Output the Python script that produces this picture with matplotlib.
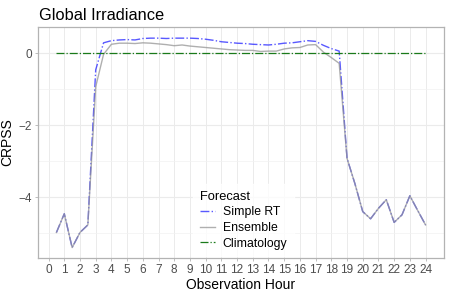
import numpy as np
import matplotlib
matplotlib.use("Agg")
import matplotlib.pyplot as plt
from matplotlib.lines import Line2D

plt.rcParams['font.family'] = ['Liberation Sans', 'DejaVu Sans']

# Observation hours (half-hourly)
hours = [0.5, 1.0, 1.5, 2.0, 2.5, 3.0, 3.5, 4.0, 4.5, 5.0, 5.5, 6.0,
         6.5, 7.0, 7.5, 8.0, 8.5, 9.0, 9.5, 10.0, 10.5, 11.0, 11.5, 12.0,
         12.5, 13.0, 13.5, 14.0, 14.5, 15.0, 15.5, 16.0, 16.5, 17.0, 17.5, 18.0,
         18.5, 19.0, 19.5, 20.0, 20.5, 21.0, 21.5, 22.0, 22.5, 23.0, 23.5, 24.0]

simple_rt = [-4.98, -4.46, -5.40, -4.98, -4.77, -0.46, 0.29, 0.35, 0.37, 0.38, 0.37, 0.41,
             0.42, 0.42, 0.41, 0.42, 0.42, 0.42, 0.41, 0.39, 0.36, 0.32, 0.30, 0.28,
             0.27, 0.25, 0.24, 0.23, 0.25, 0.28, 0.29, 0.32, 0.35, 0.33, 0.22, 0.13,
             0.06, -2.92, -3.62, -4.40, -4.60, -4.31, -4.07, -4.70, -4.49, -3.96, -4.37, -4.77]

ensemble = [-4.98, -4.46, -5.40, -4.98, -4.77, -0.93, -0.03, 0.25, 0.28, 0.28, 0.27, 0.29,
            0.28, 0.26, 0.24, 0.21, 0.23, 0.20, 0.18, 0.16, 0.14, 0.12, 0.10, 0.09,
            0.08, 0.08, 0.05, 0.06, 0.06, 0.12, 0.15, 0.16, 0.23, 0.24, 0.03, -0.12,
            -0.28, -2.92, -3.62, -4.40, -4.60, -4.31, -4.07, -4.70, -4.49, -3.96, -4.37, -4.77]

climatology = [0.0] * len(hours)

x_ticks = list(range(0, 25))
y_ticks = [0, -2, -4]
y_minor = [-1, -3, -5]

fig = plt.figure(figsize=(4.5, 2.95), dpi=100)
ax = fig.add_axes([0.0844, 0.1254, 0.9023, 0.7831])

# grid
for v in x_ticks:
    ax.axvline(v, color='#ebebeb', lw=0.7, zorder=0)
for v in y_ticks:
    ax.axhline(v, color='#ebebeb', lw=0.8, zorder=0)
for v in y_minor:
    ax.axhline(v, color='#f2f2f2', lw=0.5, zorder=0)

ax.plot(hours, simple_rt, color='#3030ff', lw=1.0, ls='-.', alpha=0.8, zorder=2)
ax.plot(hours, ensemble, color='#959595', lw=1.0, alpha=0.75, zorder=3)
ax.plot(hours, climatology, color='#1a7a1a', lw=0.9, ls='-.', zorder=4)

ax.set_xlim(-0.675, 25.175)
ax.set_ylim(-5.69, 0.73)
ax.set_xticks(x_ticks)
ax.set_xticklabels([str(v) for v in x_ticks])
ax.set_yticks(y_ticks)
ax.set_yticklabels(['0', '\u22122', '\u22124'])
ax.tick_params(axis='both', colors='#b3b3b3', labelcolor='#4d4d4d', labelsize=8.5,
               length=2.5, width=0.6, pad=2)
for s in ax.spines.values():
    s.set_color('#b3b3b3')
    s.set_linewidth(0.9)

ax.set_xlabel('Observation Hour', fontsize=10, color='black', labelpad=1)
ax.set_ylabel('CRPSS', fontsize=10, color='black', labelpad=3)
fig.text(0.086, 0.932, 'Global Irradiance', fontsize=11.8, color='black',
         va='baseline', ha='left')

handles = [Line2D([], [], color='#3030ff', ls='-.', lw=1.0, alpha=0.8),
           Line2D([], [], color='#959595', lw=1.0, alpha=0.75),
           Line2D([], [], color='#1a7a1a', ls='-.', lw=0.9)]
leg = ax.legend(handles, ['Simple RT', 'Ensemble', 'Climatology'], title='Forecast',
                loc='lower left', bbox_to_anchor=(0.383, 0.01), borderaxespad=0,
                frameon=True, fontsize=8.8, title_fontsize=9.3, handlelength=1.3,
                handletextpad=0.6, labelspacing=0.3, borderpad=0.5, fancybox=False)
leg.get_frame().set_edgecolor('white')
leg.get_frame().set_facecolor('white')
leg._legend_box.align = 'left'

fig.savefig('out.png', dpi=100)
